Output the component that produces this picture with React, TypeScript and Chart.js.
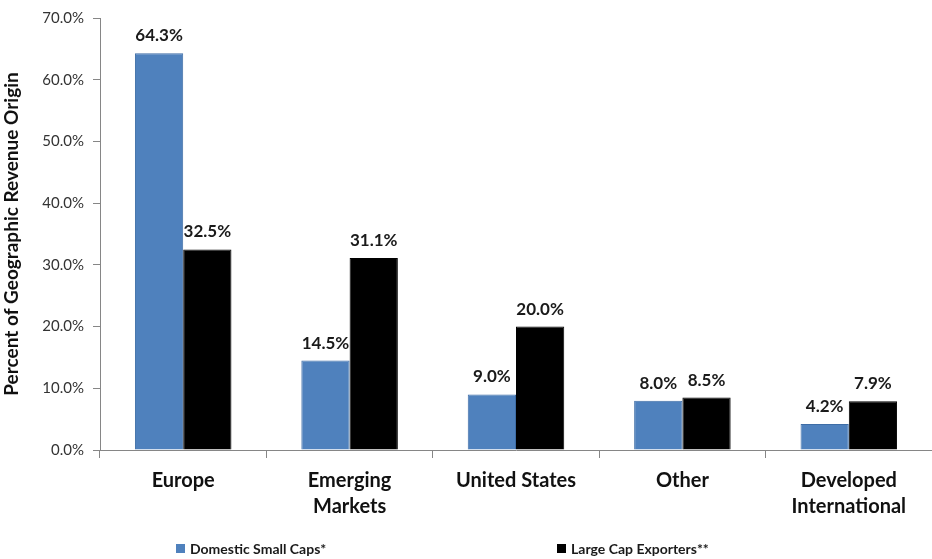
import React, { useEffect, useRef } from "react";
import { Chart, registerables } from "chart.js";

Chart.register(...registerables);

const categories: (string | string[])[] = [
  "Europe",
  ["Emerging", "Markets"],
  "United States",
  "Other",
  ["Developed", "International"],
];
const domesticSmallCaps = [64.3, 14.5, 9.0, 8.0, 4.2];
const largeCapExporters = [32.5, 31.1, 20.0, 8.5, 7.9];
const seriesNames = ["Domestic Small Caps*", "Large Cap Exporters**"];
const seriesColors = ["#4F81BD", "#000000"];
const yTitle = "Percent of Geographic Revenue Origin";

const FONT = "Lato, 'Open Sans', sans-serif";

const dataLabelPlugin = {
  id: "dataLabels",
  afterDatasetsDraw(chart: any) {
    const ctx = chart.ctx;
    ctx.save();
    ctx.font = `bold 17px ${FONT}`;
    ctx.fillStyle = "#1a1a1a";
    ctx.textAlign = "center";
    ctx.textBaseline = "alphabetic";
    chart.data.datasets.forEach((ds: any, i: number) => {
      const meta = chart.getDatasetMeta(i);
      meta.data.forEach((bar: any, j: number) => {
        ctx.fillText(ds.data[j].toFixed(1) + "%", bar.x, bar.y - 12);
      });
    });
    ctx.restore();
  },
};

const legendPlugin = {
  id: "customLegend",
  afterDraw(chart: any) {
    const ctx = chart.ctx;
    ctx.save();
    ctx.font = `bold 14px ${FONT}`;
    ctx.textBaseline = "middle";
    ctx.textAlign = "left";
    const y = 549;
    const xs = [176, 557];
    chart.data.datasets.forEach((ds: any, i: number) => {
      ctx.fillStyle = ds.backgroundColor;
      ctx.fillRect(xs[i], y - 5, 9, 9);
      ctx.fillStyle = "#1a1a1a";
      ctx.fillText(ds.label, xs[i] + 14, y);
    });
    ctx.restore();
  },
};

export default function App() {
  const ref = useRef<HTMLCanvasElement>(null);
  useEffect(() => {
    document.body.style.margin = "0";
    const chart = new Chart(ref.current!, {
      type: "bar",
      data: {
        labels: categories,
        datasets: [
          {
            label: seriesNames[0],
            data: domesticSmallCaps,
            backgroundColor: seriesColors[0],
            borderColor: "#3E6DA6",
            borderWidth: 1,
            barPercentage: 1,
            categoryPercentage: 0.58,
          },
          {
            label: seriesNames[1],
            data: largeCapExporters,
            backgroundColor: seriesColors[1],
            borderColor: "#000000",
            borderWidth: 1,
            barPercentage: 1,
            categoryPercentage: 0.58,
          },
        ],
      },
      options: {
        animation: false,
        responsive: false,
        maintainAspectRatio: false,
        layout: { padding: { top: 13, left: 0, right: 0, bottom: 0 } },
        plugins: { legend: { display: false }, tooltip: { enabled: false } },
        scales: {
          x: {
            afterFit: (s: any) => {
              s.height = 109;
            },
            border: { color: "#868686", width: 1 },
            grid: {
              display: true,
              drawOnChartArea: false,
              drawTicks: true,
              tickLength: 8,
              color: "#868686",
              offset: true,
            },
            ticks: {
              font: { family: FONT, size: 20, weight: "bold", lineHeight: 1.3 },
              color: "#111",
              padding: 10,
              maxRotation: 0,
              autoSkip: false,
            },
          },
          y: {
            min: 0,
            max: 70,
            afterFit: (s: any) => {
              s.width = 100;
            },
            border: { color: "#868686", width: 1 },
            grid: {
              drawOnChartArea: false,
              drawTicks: true,
              tickLength: 7,
              color: "#868686",
            },
            ticks: {
              stepSize: 10,
              font: { family: FONT, size: 15 },
              color: "#333",
              padding: 9,
              callback: (v: any) => Number(v).toFixed(1) + "%",
            },
            title: {
              display: true,
              text: yTitle,
              font: { family: FONT, size: 19, weight: "bold" },
              color: "#111",
              padding: { top: 0, bottom: 0 },
            },
          },
        },
      },
      plugins: [dataLabelPlugin, legendPlugin],
    });
    return () => chart.destroy();
  }, []);
  return <canvas ref={ref} width={932} height={559} style={{ display: "block" }} />;
}
